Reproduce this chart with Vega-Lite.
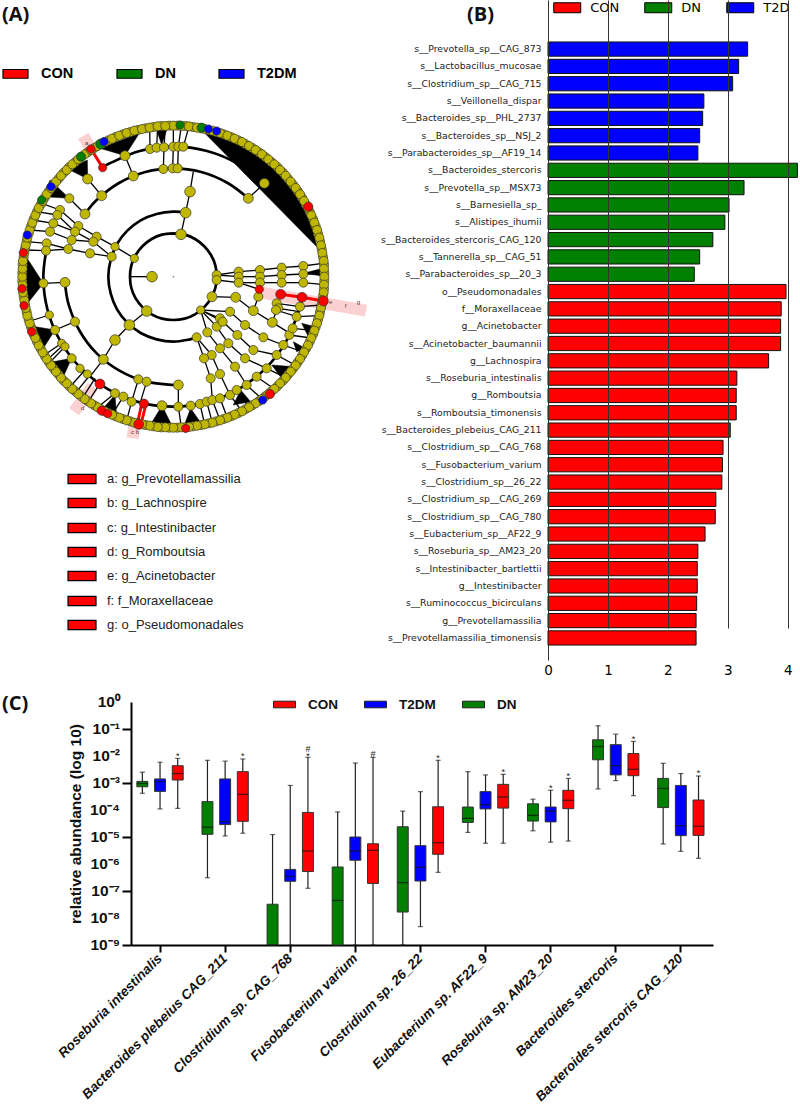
{"$schema":"https://vega.github.io/schema/vega-lite/v6.json","padding":0,"background":"white","config":{"view":{"stroke":null},"font":"Liberation Sans","axis":{"labelOverlap":false}},"columns":2,"bounds":"flush","align":"each","spacing":{"row":22,"column":0},"resolve":{"scale":{"color":"independent","size":"independent"},"legend":{"color":"independent"}},
"datasets":{
"rings":[
{"ring":1,"k":0,"x":0,"y":130},{"ring":1,"k":1,"x":34,"y":126},{"ring":1,"k":2,"x":65,"y":113},{"ring":1,"k":3,"x":92,"y":92},{"ring":1,"k":4,"x":113,"y":65},{"ring":1,"k":5,"x":126,"y":34},{"ring":1,"k":6,"x":130,"y":0},{"ring":1,"k":7,"x":126,"y":-34},{"ring":1,"k":8,"x":113,"y":-65},{"ring":1,"k":9,"x":92,"y":-92},{"ring":1,"k":10,"x":65,"y":-113},{"ring":1,"k":11,"x":34,"y":-126},{"ring":1,"k":12,"x":0,"y":-130},{"ring":1,"k":13,"x":-34,"y":-126},{"ring":1,"k":14,"x":-65,"y":-113},{"ring":1,"k":15,"x":-92,"y":-92},{"ring":1,"k":16,"x":-113,"y":-65},{"ring":1,"k":17,"x":-126,"y":-34},{"ring":1,"k":18,"x":-130,"y":0},{"ring":1,"k":19,"x":-126,"y":34},{"ring":1,"k":20,"x":-113,"y":65},{"ring":1,"k":21,"x":-92,"y":92},{"ring":1,"k":22,"x":-65,"y":113},{"ring":1,"k":23,"x":-34,"y":126},{"ring":1,"k":24,"x":0,"y":130},
{"ring":2,"k":0,"x":70,"y":-182},{"ring":2,"k":1,"x":50,"y":-188},{"ring":2,"k":2,"x":0,"y":-195},{"ring":2,"k":3,"x":-50,"y":-188},{"ring":2,"k":4,"x":-98,"y":-169},{"ring":2,"k":5,"x":-138,"y":-138},{"ring":2,"k":6,"x":-169,"y":-98},{"ring":2,"k":7,"x":-188,"y":-50},{"ring":2,"k":8,"x":-195,"y":0},{"ring":2,"k":9,"x":-188,"y":50},{"ring":2,"k":10,"x":-169,"y":98},{"ring":2,"k":11,"x":-138,"y":138},{"ring":2,"k":12,"x":-98,"y":169},{"ring":2,"k":13,"x":-50,"y":188},{"ring":2,"k":14,"x":0,"y":195},{"ring":2,"k":15,"x":37,"y":192},
{"ring":3,"k":0,"x":-266,"y":186},{"ring":3,"k":1,"x":-230,"y":230},{"ring":3,"k":2,"x":-163,"y":281},{"ring":3,"k":3,"x":-84,"y":314},{"ring":3,"k":4,"x":0,"y":325},{"ring":3,"k":5,"x":84,"y":314},{"ring":3,"k":6,"x":163,"y":281},{"ring":3,"k":7,"x":226,"y":234},
{"ring":4,"k":0,"x":17,"y":-325},{"ring":4,"k":1,"x":0,"y":-325},{"ring":4,"k":2,"x":-84,"y":-314},{"ring":4,"k":3,"x":-163,"y":-281},{"ring":4,"k":4,"x":-230,"y":-230},{"ring":4,"k":5,"x":-281,"y":-163},{"ring":4,"k":6,"x":-314,"y":-84},{"ring":4,"k":7,"x":-325,"y":-17},
{"ring":5,"k":0,"x":-212,"y":327},{"ring":5,"k":1,"x":-195,"y":338},{"ring":5,"k":2,"x":-101,"y":377},{"ring":5,"k":3,"x":0,"y":390},{"ring":5,"k":4,"x":101,"y":377},{"ring":5,"k":5,"x":195,"y":338},{"ring":5,"k":6,"x":271,"y":281},
{"ring":6,"k":0,"x":384,"y":-68},{"ring":6,"k":1,"x":377,"y":-101},{"ring":6,"k":2,"x":338,"y":-195},{"ring":6,"k":3,"x":276,"y":-276},{"ring":6,"k":4,"x":195,"y":-338},{"ring":6,"k":5,"x":101,"y":-377},{"ring":6,"k":6,"x":0,"y":-390},{"ring":6,"k":7,"x":-101,"y":-377},{"ring":6,"k":8,"x":-195,"y":-338},{"ring":6,"k":9,"x":-276,"y":-276},{"ring":6,"k":10,"x":-338,"y":-195},{"ring":6,"k":11,"x":-377,"y":-101},{"ring":6,"k":12,"x":-390,"y":0},{"ring":6,"k":13,"x":-377,"y":101}
],
"nodes":[
{"x":12,"y":453,"g":"ns","a":3},{"x":36,"y":452,"g":"ns","a":3},{"x":59,"y":449,"g":"ns","a":3},{"x":83,"y":445,"g":"ns","a":3},{"x":106,"y":440,"g":"ns","a":3},{"x":129,"y":434,"g":"ns","a":3},{"x":151,"y":427,"g":"ns","a":3},{"x":173,"y":419,"g":"ns","a":3},{"x":195,"y":409,"g":"ns","a":3},{"x":216,"y":398,"g":"ns","a":3},{"x":237,"y":386,"g":"ns","a":3},{"x":257,"y":373,"g":"ns","a":3},{"x":276,"y":359,"g":"ns","a":3},{"x":294,"y":344,"g":"ns","a":3},{"x":312,"y":329,"g":"ns","a":3},{"x":329,"y":312,"g":"ns","a":3},{"x":344,"y":294,"g":"ns","a":3},{"x":359,"y":276,"g":"ns","a":3},{"x":373,"y":257,"g":"ns","a":3},{"x":386,"y":237,"g":"ns","a":3},{"x":398,"y":216,"g":"ns","a":3},{"x":409,"y":195,"g":"ns","a":3},{"x":419,"y":173,"g":"ns","a":3},{"x":427,"y":151,"g":"ns","a":3},{"x":434,"y":129,"g":"ns","a":3},{"x":440,"y":106,"g":"ns","a":3},{"x":445,"y":83,"g":"ns","a":3},{"x":449,"y":59,"g":"ns","a":3},{"x":452,"y":36,"g":"ns","a":3},{"x":453,"y":12,"g":"ns","a":3},
{"x":12,"y":-453,"g":"ns","a":3},{"x":36,"y":-452,"g":"ns","a":3},{"x":59,"y":-449,"g":"ns","a":3},{"x":83,"y":-445,"g":"ns","a":3},{"x":106,"y":-440,"g":"ns","a":3},{"x":129,"y":-434,"g":"ns","a":3},{"x":151,"y":-427,"g":"ns","a":3},{"x":173,"y":-419,"g":"ns","a":3},{"x":195,"y":-409,"g":"ns","a":3},{"x":216,"y":-398,"g":"ns","a":3},{"x":237,"y":-386,"g":"ns","a":3},{"x":257,"y":-373,"g":"ns","a":3},{"x":276,"y":-359,"g":"ns","a":3},{"x":294,"y":-344,"g":"ns","a":3},{"x":312,"y":-329,"g":"ns","a":3},{"x":329,"y":-312,"g":"ns","a":3},{"x":344,"y":-294,"g":"ns","a":3},{"x":359,"y":-276,"g":"ns","a":3},{"x":373,"y":-257,"g":"ns","a":3},{"x":386,"y":-237,"g":"ns","a":3},{"x":398,"y":-216,"g":"ns","a":3},{"x":409,"y":-195,"g":"ns","a":3},{"x":419,"y":-173,"g":"ns","a":3},{"x":427,"y":-151,"g":"ns","a":3},{"x":434,"y":-129,"g":"ns","a":3},{"x":440,"y":-106,"g":"ns","a":3},{"x":445,"y":-83,"g":"ns","a":3},{"x":449,"y":-59,"g":"ns","a":3},{"x":452,"y":-36,"g":"ns","a":3},{"x":453,"y":-12,"g":"ns","a":3},
{"x":-12,"y":-453,"g":"ns","a":3},{"x":-36,"y":-452,"g":"ns","a":3},{"x":-59,"y":-449,"g":"ns","a":3},{"x":-83,"y":-445,"g":"ns","a":3},{"x":-106,"y":-440,"g":"ns","a":3},{"x":-129,"y":-434,"g":"ns","a":3},{"x":-151,"y":-427,"g":"ns","a":3},{"x":-173,"y":-419,"g":"ns","a":3},{"x":-195,"y":-409,"g":"ns","a":3},{"x":-216,"y":-398,"g":"ns","a":3},{"x":-237,"y":-386,"g":"ns","a":3},{"x":-257,"y":-373,"g":"ns","a":3},{"x":-276,"y":-359,"g":"ns","a":3},{"x":-294,"y":-344,"g":"ns","a":3},{"x":-312,"y":-329,"g":"ns","a":3},{"x":-329,"y":-312,"g":"ns","a":3},{"x":-344,"y":-294,"g":"ns","a":3},{"x":-359,"y":-276,"g":"ns","a":3},{"x":-373,"y":-257,"g":"ns","a":3},{"x":-386,"y":-237,"g":"ns","a":3},{"x":-398,"y":-216,"g":"ns","a":3},{"x":-409,"y":-195,"g":"ns","a":3},{"x":-419,"y":-173,"g":"ns","a":3},{"x":-427,"y":-151,"g":"ns","a":3},{"x":-434,"y":-129,"g":"ns","a":3},{"x":-440,"y":-106,"g":"ns","a":3},{"x":-445,"y":-83,"g":"ns","a":3},{"x":-449,"y":-59,"g":"ns","a":3},{"x":-452,"y":-36,"g":"ns","a":3},{"x":-453,"y":-12,"g":"ns","a":3},
{"x":-12,"y":453,"g":"ns","a":3},{"x":-36,"y":452,"g":"ns","a":3},{"x":-59,"y":449,"g":"ns","a":3},{"x":-83,"y":445,"g":"ns","a":3},{"x":-106,"y":440,"g":"ns","a":3},{"x":-129,"y":434,"g":"ns","a":3},{"x":-151,"y":427,"g":"ns","a":3},{"x":-173,"y":419,"g":"ns","a":3},{"x":-195,"y":409,"g":"ns","a":3},{"x":-216,"y":398,"g":"ns","a":3},{"x":-237,"y":386,"g":"ns","a":3},{"x":-257,"y":373,"g":"ns","a":3},{"x":-276,"y":359,"g":"ns","a":3},{"x":-294,"y":344,"g":"ns","a":3},{"x":-312,"y":329,"g":"ns","a":3},{"x":-329,"y":312,"g":"ns","a":3},{"x":-344,"y":294,"g":"ns","a":3},{"x":-359,"y":276,"g":"ns","a":3},{"x":-373,"y":257,"g":"ns","a":3},{"x":-386,"y":237,"g":"ns","a":3},{"x":-398,"y":216,"g":"ns","a":3},{"x":-409,"y":195,"g":"ns","a":3},{"x":-419,"y":173,"g":"ns","a":3},{"x":-427,"y":151,"g":"ns","a":3},{"x":-434,"y":129,"g":"ns","a":3},{"x":-440,"y":106,"g":"ns","a":3},{"x":-445,"y":83,"g":"ns","a":3},{"x":-449,"y":59,"g":"ns","a":3},{"x":-452,"y":36,"g":"ns","a":3},{"x":-453,"y":12,"g":"ns","a":3},
{"x":0,"y":453,"g":"ns","a":3},{"x":24,"y":452,"g":"ns","a":3},{"x":47,"y":451,"g":"ns","a":3},{"x":71,"y":447,"g":"ns","a":3},{"x":94,"y":443,"g":"ns","a":3},{"x":117,"y":438,"g":"ns","a":3},{"x":140,"y":431,"g":"ns","a":3},{"x":162,"y":423,"g":"ns","a":3},{"x":184,"y":414,"g":"ns","a":3},{"x":206,"y":404,"g":"ns","a":3},{"x":227,"y":392,"g":"ns","a":3},{"x":247,"y":380,"g":"ns","a":3},{"x":266,"y":367,"g":"ns","a":3},{"x":285,"y":352,"g":"ns","a":3},{"x":303,"y":337,"g":"ns","a":3},{"x":320,"y":320,"g":"ns","a":3},{"x":337,"y":303,"g":"ns","a":3},{"x":352,"y":285,"g":"ns","a":3},{"x":367,"y":266,"g":"ns","a":3},{"x":380,"y":247,"g":"ns","a":3},{"x":392,"y":227,"g":"ns","a":3},{"x":404,"y":206,"g":"ns","a":3},{"x":414,"y":184,"g":"ns","a":3},{"x":423,"y":162,"g":"ns","a":3},{"x":431,"y":140,"g":"ns","a":3},{"x":438,"y":117,"g":"ns","a":3},{"x":443,"y":94,"g":"ns","a":3},{"x":447,"y":71,"g":"ns","a":3},{"x":451,"y":47,"g":"ns","a":3},{"x":452,"y":24,"g":"ns","a":3},
{"x":453,"y":0,"g":"ns","a":3},{"x":452,"y":-24,"g":"ns","a":3},{"x":451,"y":-47,"g":"ns","a":3},{"x":447,"y":-71,"g":"ns","a":3},{"x":443,"y":-94,"g":"ns","a":3},{"x":438,"y":-117,"g":"ns","a":3},{"x":431,"y":-140,"g":"ns","a":3},{"x":423,"y":-162,"g":"ns","a":3},{"x":414,"y":-184,"g":"ns","a":3},{"x":404,"y":-206,"g":"ns","a":3},{"x":392,"y":-227,"g":"ns","a":3},{"x":380,"y":-247,"g":"ns","a":3},{"x":367,"y":-266,"g":"ns","a":3},{"x":352,"y":-285,"g":"ns","a":3},{"x":337,"y":-303,"g":"ns","a":3},{"x":320,"y":-320,"g":"ns","a":3},{"x":303,"y":-337,"g":"ns","a":3},{"x":285,"y":-352,"g":"ns","a":3},{"x":266,"y":-367,"g":"ns","a":3},{"x":247,"y":-380,"g":"ns","a":3},{"x":227,"y":-392,"g":"ns","a":3},{"x":206,"y":-404,"g":"ns","a":3},{"x":184,"y":-414,"g":"ns","a":3},{"x":162,"y":-423,"g":"ns","a":3},{"x":140,"y":-431,"g":"ns","a":3},{"x":117,"y":-438,"g":"ns","a":3},{"x":94,"y":-443,"g":"ns","a":3},{"x":71,"y":-447,"g":"ns","a":3},{"x":47,"y":-451,"g":"ns","a":3},{"x":24,"y":-452,"g":"ns","a":3},
{"x":0,"y":-453,"g":"ns","a":3},{"x":-24,"y":-452,"g":"ns","a":3},{"x":-47,"y":-451,"g":"ns","a":3},{"x":-71,"y":-447,"g":"ns","a":3},{"x":-94,"y":-443,"g":"ns","a":3},{"x":-117,"y":-438,"g":"ns","a":3},{"x":-140,"y":-431,"g":"ns","a":3},{"x":-162,"y":-423,"g":"ns","a":3},{"x":-184,"y":-414,"g":"ns","a":3},{"x":-206,"y":-404,"g":"ns","a":3},{"x":-227,"y":-392,"g":"ns","a":3},{"x":-247,"y":-380,"g":"ns","a":3},{"x":-266,"y":-367,"g":"ns","a":3},{"x":-285,"y":-352,"g":"ns","a":3},{"x":-303,"y":-337,"g":"ns","a":3},{"x":-320,"y":-320,"g":"ns","a":3},{"x":-337,"y":-303,"g":"ns","a":3},{"x":-352,"y":-285,"g":"ns","a":3},{"x":-367,"y":-266,"g":"ns","a":3},{"x":-380,"y":-247,"g":"ns","a":3},{"x":-392,"y":-227,"g":"ns","a":3},{"x":-404,"y":-206,"g":"ns","a":3},{"x":-414,"y":-184,"g":"ns","a":3},{"x":-423,"y":-162,"g":"ns","a":3},{"x":-431,"y":-140,"g":"ns","a":3},{"x":-438,"y":-117,"g":"ns","a":3},{"x":-443,"y":-94,"g":"ns","a":3},{"x":-447,"y":-71,"g":"ns","a":3},{"x":-451,"y":-47,"g":"ns","a":3},{"x":-452,"y":-24,"g":"ns","a":3},
{"x":-453,"y":0,"g":"ns","a":3},{"x":-452,"y":24,"g":"ns","a":3},{"x":-451,"y":47,"g":"ns","a":3},{"x":-447,"y":71,"g":"ns","a":3},{"x":-443,"y":94,"g":"ns","a":3},{"x":-438,"y":117,"g":"ns","a":3},{"x":-431,"y":140,"g":"ns","a":3},{"x":-423,"y":162,"g":"ns","a":3},{"x":-414,"y":184,"g":"ns","a":3},{"x":-404,"y":206,"g":"ns","a":3},{"x":-392,"y":227,"g":"ns","a":3},{"x":-380,"y":247,"g":"ns","a":3},{"x":-367,"y":266,"g":"ns","a":3},{"x":-352,"y":285,"g":"ns","a":3},{"x":-337,"y":303,"g":"ns","a":3},{"x":-320,"y":320,"g":"ns","a":3},{"x":-303,"y":337,"g":"ns","a":3},{"x":-285,"y":352,"g":"ns","a":3},{"x":-266,"y":367,"g":"ns","a":3},{"x":-247,"y":380,"g":"ns","a":3},{"x":-227,"y":392,"g":"ns","a":3},{"x":-206,"y":404,"g":"ns","a":3},{"x":-184,"y":414,"g":"ns","a":3},{"x":-162,"y":423,"g":"ns","a":3},{"x":-140,"y":431,"g":"ns","a":3},{"x":-117,"y":438,"g":"ns","a":3},{"x":-94,"y":443,"g":"ns","a":3},{"x":-71,"y":447,"g":"ns","a":3},{"x":-47,"y":451,"g":"ns","a":3},{"x":-24,"y":452,"g":"ns","a":3},
{"x":80,"y":-382,"g":"ns","a":3},{"x":100,"y":-375,"g":"ns","a":3},{"x":117,"y":-370,"g":"ns","a":3},{"x":140,"y":-365,"g":"ns","a":3},{"x":170,"y":-355,"g":"ns","a":3},{"x":190,"y":-340,"g":"ns","a":3},{"x":220,"y":-325,"g":"ns","a":3},{"x":250,"y":-300,"g":"ns","a":3},{"x":280,"y":-275,"g":"ns","a":3},{"x":310,"y":-235,"g":"ns","a":3},{"x":330,"y":-205,"g":"ns","a":3},{"x":348,"y":-175,"g":"ns","a":3},{"x":358,"y":-155,"g":"ns","a":3},{"x":370,"y":-120,"g":"ns","a":3},{"x":380,"y":-90,"g":"ns","a":3},
{"x":-70,"y":383,"g":"ns","a":3},{"x":-50,"y":387,"g":"ns","a":3},{"x":-28,"y":388,"g":"ns","a":3},{"x":0,"y":390,"g":"ns","a":3},{"x":15,"y":390,"g":"ns","a":3},{"x":30,"y":390,"g":"ns","a":3},{"x":-145,"y":363,"g":"ns","a":2},{"x":273,"y":280,"g":"ns","a":2},
{"x":-265,"y":188,"g":"ns","a":2},{"x":-215,"y":243,"g":"ns","a":2},{"x":-120,"y":302,"g":"ns","a":2},{"x":-30,"y":323,"g":"ns","a":3},{"x":-2,"y":325,"g":"ns","a":3},{"x":13,"y":325,"g":"ns","a":3},{"x":225,"y":235,"g":"ns","a":2},{"x":-325,"y":-17,"g":"ns","a":2},{"x":-295,"y":-135,"g":"ns","a":3},{"x":-210,"y":-248,"g":"ns","a":2},{"x":-105,"y":-308,"g":"ns","a":3},{"x":-80,"y":-315,"g":"ns","a":3},{"x":15,"y":-325,"g":"ns","a":2},
{"x":-257,"y":293,"g":"ns","a":2},{"x":-312,"y":235,"g":"ns","a":3},{"x":-175,"y":-350,"g":"ns","a":3},{"x":-150,"y":-360,"g":"ns","a":3},{"x":-125,"y":-375,"g":"ns","a":3},{"x":-34,"y":-387,"g":"ns","a":2},{"x":15,"y":-390,"g":"ns","a":3},{"x":52,"y":-387,"g":"ns","a":3},{"x":-390,"y":-20,"g":"ns","a":3},{"x":-372,"y":-115,"g":"ns","a":4},{"x":-355,"y":-160,"g":"ns","a":3},{"x":-305,"y":-245,"g":"ns","a":3},{"x":-280,"y":-275,"g":"ns","a":4},{"x":-258,"y":-292,"g":"ns","a":4},{"x":-335,"y":-200,"g":"ns","a":4},{"x":-325,"y":-210,"g":"ns","a":4},
{"x":23,"y":127,"g":"ns","a":1},{"x":37,"y":192,"g":"ns","a":1},{"x":50,"y":255,"g":"ns","a":1},{"x":130,"y":5,"g":"ns","a":3},{"x":130,"y":-10,"g":"ns","a":3},{"x":116,"y":-60,"g":"ns","a":2},{"x":82,"y":-100,"g":"ns","a":4},{"x":-80,"y":-103,"g":"ns","a":1},{"x":-117,"y":55,"g":"ns","a":4},{"x":-175,"y":90,"g":"ns","a":4},{"x":-185,"y":60,"g":"ns","a":3},{"x":-132,"y":-145,"g":"ns","a":1},{"x":70,"y":-182,"g":"ns","a":3},{"x":-175,"y":-190,"g":"ns","a":1},{"x":187,"y":-62,"g":"ns","a":2},{"x":240,"y":-102,"g":"ns","a":2},{"x":297,"y":-137,"g":"ns","a":2},{"x":-64,"y":0,"g":"ns","a":1},
{"x":-230,"y":120,"g":"ns","a":3},{"x":-240,"y":105,"g":"ns","a":3},{"x":-250,"y":70,"g":"ns","a":3},{"x":-285,"y":152,"g":"ns","a":3},{"x":-295,"y":135,"g":"ns","a":3},{"x":-305,"y":110,"g":"ns","a":3},{"x":-315,"y":83,"g":"ns","a":3},{"x":-340,"y":200,"g":"ns","a":3},{"x":-348,"y":185,"g":"ns","a":3},{"x":-360,"y":160,"g":"ns","a":3},{"x":-370,"y":135,"g":"ns","a":3},{"x":-380,"y":100,"g":"ns","a":3},{"x":-382,"y":78,"g":"ns","a":3},
{"x":196,"y":15,"g":"ns","a":3},{"x":196,"y":0,"g":"ns","a":3},{"x":196,"y":-18,"g":"ns","a":3},{"x":260,"y":20,"g":"ns","a":3},{"x":260,"y":0,"g":"ns","a":3},{"x":260,"y":-18,"g":"ns","a":3},{"x":325,"y":27,"g":"ns","a":3},{"x":325,"y":5,"g":"ns","a":3},{"x":325,"y":-18,"g":"ns","a":3},{"x":390,"y":32,"g":"ns","a":3},{"x":390,"y":8,"g":"ns","a":3},{"x":390,"y":-18,"g":"ns","a":3},{"x":255,"y":-60,"g":"ns","a":3},{"x":310,"y":-80,"g":"ns","a":3},{"x":315,"y":-95,"g":"ns","a":3},{"x":308,"y":-100,"g":"ns","a":3},
{"x":140,"y":-125,"g":"ns","a":3},{"x":170,"y":-105,"g":"ns","a":3},{"x":130,"y":-150,"g":"ns","a":3},{"x":148,"y":-135,"g":"ns","a":3},{"x":102,"y":-167,"g":"ns","a":3},{"x":192,"y":-175,"g":"ns","a":3},{"x":215,"y":-145,"g":"ns","a":3},{"x":165,"y":-200,"g":"ns","a":3},{"x":140,"y":-215,"g":"ns","a":3},{"x":115,"y":-235,"g":"ns","a":3},{"x":92,"y":-245,"g":"ns","a":3},{"x":270,"y":-182,"g":"ns","a":3},{"x":240,"y":-220,"g":"ns","a":3},{"x":215,"y":-245,"g":"ns","a":3},{"x":185,"y":-270,"g":"ns","a":3},{"x":140,"y":-292,"g":"ns","a":3},{"x":112,"y":-305,"g":"ns","a":3},
{"x":-247,"y":383,"g":"CON","a":4},{"x":-212,"y":327,"g":"CON","a":4},{"x":405,"y":210,"g":"CON","a":3},{"x":-450,"y":72,"g":"CON","a":4},{"x":-454,"y":-36,"g":"CON","a":4},{"x":-448,"y":-87,"g":"CON","a":4},{"x":-425,"y":-165,"g":"CON","a":4},{"x":-220,"y":-322,"g":"CON","a":2},{"x":-215,"y":-402,"g":"CON","a":3},{"x":-197,"y":-411,"g":"CON","a":4},{"x":-88,"y":-381,"g":"CON","a":3},{"x":-104,"y":-443,"g":"CON","a":2},{"x":37,"y":-455,"g":"CON","a":4},{"x":290,"y":-352,"g":"CON","a":3},{"x":258,"y":-38,"g":"CON","a":4},{"x":322,"y":-53,"g":"CON","a":2},{"x":386,"y":-62,"g":"CON","a":2},{"x":450,"y":-73,"g":"CON","a":2},
{"x":-395,"y":230,"g":"DN","a":4},{"x":-277,"y":360,"g":"DN","a":3},{"x":-218,"y":398,"g":"DN","a":2},{"x":20,"y":455,"g":"DN","a":4},{"x":85,"y":447,"g":"DN","a":3},
{"x":-438,"y":125,"g":"T2DM","a":4},{"x":-367,"y":270,"g":"T2DM","a":4},{"x":-208,"y":405,"g":"T2DM","a":4},{"x":130,"y":437,"g":"T2DM","a":4},{"x":268,"y":-370,"g":"T2DM","a":4},{"x":105,"y":443,"g":"T2DM","a":4}
],
"edges":[
{"x":-117,"y":55,"x2":-175,"y2":90},{"x":-175,"y":90,"x2":-230,"y2":120},{"x":-185,"y":60,"x2":-240,"y2":105},{"x":-185,"y":60,"x2":-250,"y2":70},{"x":-230,"y":120,"x2":-285,"y2":152},{"x":-240,"y":105,"x2":-295,"y2":135},{"x":-240,"y":105,"x2":-305,"y2":110},{"x":-250,"y":70,"x2":-315,"y2":83},{"x":-285,"y":152,"x2":-340,"y2":200},{"x":-295,"y":135,"x2":-348,"y2":185},{"x":-295,"y":135,"x2":-360,"y2":160},{"x":-305,"y":110,"x2":-370,"y2":135},{"x":-315,"y":83,"x2":-380,"y2":100},{"x":-315,"y":83,"x2":-382,"y2":78},{"x":-340,"y":200,"x2":-395,"y2":220},{"x":-348,"y":185,"x2":-410,"y2":195},{"x":-360,"y":160,"x2":-420,"y2":170},{"x":-370,"y":135,"x2":-430,"y2":140},{"x":-380,"y":100,"x2":-440,"y2":105},{"x":-382,"y":78,"x2":-445,"y2":80},
{"x":130,"y":5,"x2":196,"y2":15},{"x":130,"y":5,"x2":196,"y2":0},{"x":130,"y":-10,"x2":196,"y2":-18},{"x":196,"y":15,"x2":260,"y2":20},{"x":196,"y":0,"x2":260,"y2":0},{"x":196,"y":-18,"x2":260,"y2":-18},{"x":196,"y":-18,"x2":258,"y2":-38},{"x":260,"y":20,"x2":325,"y2":27},{"x":260,"y":0,"x2":325,"y2":5},{"x":260,"y":-18,"x2":325,"y2":-18},{"x":325,"y":27,"x2":390,"y2":32},{"x":325,"y":5,"x2":390,"y2":8},{"x":325,"y":-18,"x2":390,"y2":-18},{"x":390,"y":32,"x2":448,"y2":40},{"x":390,"y":8,"x2":450,"y2":10},{"x":390,"y":-18,"x2":452,"y2":-24},
{"x":240,"y":-102,"x2":255,"y2":-60},{"x":297,"y":-137,"x2":310,"y2":-100},{"x":310,"y":-80,"x2":380,"y2":-90},{"x":315,"y":-95,"x2":378,"y2":-105},{"x":308,"y":-100,"x2":370,"y2":-120},
{"x":380,"y":-90,"x2":445,"y2":-85},{"x":370,"y":-120,"x2":438,"y2":-117},{"x":358,"y":-155,"x2":423,"y2":-162},{"x":348,"y":-175,"x2":414,"y2":-184},{"x":330,"y":-205,"x2":392,"y2":-227},{"x":310,"y":-235,"x2":367,"y2":-266},{"x":280,"y":-275,"x2":337,"y2":-303},{"x":250,"y":-300,"x2":303,"y2":-337},{"x":220,"y":-325,"x2":266,"y2":-367},{"x":190,"y":-340,"x2":227,"y2":-392},{"x":170,"y":-355,"x2":206,"y2":-404},{"x":140,"y":-365,"x2":162,"y2":-423},{"x":117,"y":-370,"x2":140,"y2":-431},{"x":100,"y":-375,"x2":117,"y2":-438},{"x":80,"y":-382,"x2":94,"y2":-443},
{"x":82,"y":-100,"x2":170,"y2":-105},{"x":82,"y":-100,"x2":140,"y2":-125},{"x":82,"y":-100,"x2":148,"y2":-135},{"x":82,"y":-100,"x2":130,"y2":-150},{"x":82,"y":-100,"x2":102,"y2":-167},{"x":170,"y":-105,"x2":215,"y2":-145},{"x":148,"y":-135,"x2":192,"y2":-175},{"x":130,"y":-150,"x2":165,"y2":-200},{"x":102,"y":-167,"x2":140,"y2":-215},{"x":70,"y":-182,"x2":115,"y2":-235},{"x":70,"y":-182,"x2":92,"y2":-245},{"x":215,"y":-145,"x2":270,"y2":-182},{"x":192,"y":-175,"x2":240,"y2":-220},{"x":165,"y":-200,"x2":215,"y2":-245},{"x":140,"y":-215,"x2":185,"y2":-270},{"x":115,"y":-235,"x2":140,"y2":-292},{"x":92,"y":-245,"x2":112,"y2":-305},{"x":270,"y":-182,"x2":330,"y2":-205},{"x":240,"y":-220,"x2":310,"y2":-235},{"x":215,"y":-245,"x2":280,"y2":-275},{"x":185,"y":-270,"x2":220,"y2":-325},{"x":140,"y":-292,"x2":170,"y2":-355},{"x":112,"y":-305,"x2":117,"y2":-370},
{"x":-64,"y":0,"x2":-130,"y2":0},{"x":23,"y":127,"x2":37,"y2":192},{"x":37,"y":192,"x2":50,"y2":255},{"x":50,"y":255,"x2":60,"y2":315},{"x":-80,"y":-103,"x2":-132,"y2":-145},{"x":-132,"y":-145,"x2":-175,"y2":-190},{"x":-175,"y":-190,"x2":-210,"y2":-248},{"x":-210,"y":-248,"x2":-250,"y2":-300},{"x":116,"y":-60,"x2":187,"y2":-62},{"x":187,"y":-62,"x2":240,"y2":-102},{"x":240,"y":-102,"x2":297,"y2":-137},{"x":297,"y":-137,"x2":350,"y2":-170},
{"x":-30,"y":323,"x2":-28,"y2":388},{"x":-2,"y":325,"x2":0,"y2":390},{"x":13,"y":325,"x2":15,"y2":390},{"x":-70,"y":383,"x2":-71,"y2":447},{"x":-50,"y":387,"x2":-47,"y2":451},{"x":-28,"y":388,"x2":-24,"y2":452},{"x":0,"y":390,"x2":0,"y2":453},{"x":15,"y":390,"x2":24,"y2":452},{"x":30,"y":390,"x2":47,"y2":451},
{"x":-265,"y":188,"x2":-312,"y2":235},{"x":-215,"y":243,"x2":-257,"y2":293},{"x":-120,"y":302,"x2":-145,"y2":363},{"x":225,"y":235,"x2":273,"y2":280},{"x":-325,"y":-17,"x2":-390,"y2":-20},{"x":-295,"y":-135,"x2":-355,"y2":-160},{"x":-372,"y":-115,"x2":-420,"y2":-130},
{"x":-265,"y":-280,"x2":-305,"y2":-325},{"x":-250,"y":-295,"x2":-290,"y2":-345},{"x":-235,"y":-305,"x2":-270,"y2":-360},{"x":-220,"y":-320,"x2":-255,"y2":-375},{"x":-335,"y":-200,"x2":-395,"y2":-240},{"x":-330,"y":-205,"x2":-385,"y2":-255},{"x":-325,"y":-210,"x2":-378,"y2":-265},
{"x":-105,"y":-308,"x2":-125,"y2":-375},{"x":-80,"y":-315,"x2":-100,"y2":-380},{"x":-125,"y":-375,"x2":-140,"y2":-431},{"x":-150,"y":-360,"x2":-184,"y2":-414},{"x":-175,"y":-350,"x2":-227,"y2":-392},{"x":15,"y":-325,"x2":15,"y2":-390},{"x":15,"y":-390,"x2":24,"y2":-452},{"x":52,"y":-387,"x2":47,"y2":-451}
],
"redEdges":[{"x":-247,"y":383,"x2":-212,"y2":327},{"x":322,"y":-53,"x2":386,"y2":-62},{"x":386,"y":-62,"x2":450,"y2":-73},{"x":-95,"y":-382,"x2":-108,"y2":-442},{"x":-82,"y":-382,"x2":-97,"y2":-442}],
"wedges":[
{"w":1,"x":80,"y":443,"y2":445},{"w":1,"x":150,"y":424,"y2":374},{"w":1,"x":220,"y":392,"y2":303},{"w":1,"x":290,"y":344,"y2":232},{"w":1,"x":360,"y":270,"y2":161},{"w":1,"x":420,"y":161,"y2":100},{"w":1,"x":450,"y":70,"y2":70},
{"w":2,"x":-220,"y":385,"y2":385},{"w":2,"x":-145,"y":363,"y2":414},{"w":2,"x":-102,"y":430,"y2":430},
{"w":3,"x":-315,"y":322,"y2":322},{"w":3,"x":-258,"y":350,"y2":293.5},{"w":3,"x":-257,"y":293,"y2":293},
{"w":4,"x":-390,"y":240,"y2":240},{"w":4,"x":-370,"y":290,"y2":238.7},{"w":4,"x":-312,"y":235,"y2":235},
{"w":5,"x":-453,"y":30,"y2":-30},{"w":5,"x":-445,"y":65,"y2":-90},{"w":5,"x":-390,"y":-20,"y2":-20},
{"w":6,"x":-415,"y":-150,"y2":-150},{"w":6,"x":-390,"y":-215,"y2":-154},{"w":6,"x":-355,"y":-160,"y2":-160},
{"w":7,"x":-360,"y":-255,"y2":-255},{"w":7,"x":-330,"y":-300,"y2":-249.5},{"w":7,"x":-305,"y":-245,"y2":-245},
{"w":8,"x":-215,"y":-400,"y2":-400},{"w":8,"x":-175,"y":-355,"y2":-418},{"w":8,"x":-170,"y":-420,"y2":-420},
{"w":9,"x":-65,"y":-438,"y2":-438},{"w":9,"x":-34,"y":-387,"y2":-441.6},{"w":9,"x":-5,"y":-445,"y2":-445},
{"w":10,"x":35,"y":-440,"y2":-440},{"w":10,"x":52,"y":-395,"y2":-438},{"w":10,"x":80,"y":-435,"y2":-435},
{"w":11,"x":180,"y":-385,"y2":-385},{"w":11,"x":202,"y":-340,"y2":-380.8},{"w":11,"x":232,"y":-375,"y2":-375},
{"w":12,"x":295,"y":-265,"y2":-265},{"w":12,"x":325,"y":-305,"y2":-267.3},{"w":12,"x":360,"y":-270,"y2":-270},
{"w":13,"x":385,"y":-140,"y2":-140},{"w":13,"x":405,"y":-180,"y2":-145},{"w":13,"x":425,"y":-150,"y2":-150},
{"w":14,"x":360,"y":-195,"y2":-195},{"w":14,"x":370,"y":-225,"y2":-200.7},{"w":14,"x":395,"y":-215,"y2":-215},
{"w":15,"x":-50,"y":440,"y2":440},{"w":15,"x":-35,"y":395,"y2":442.3},{"w":15,"x":-18,"y":445,"y2":445},
{"w":16,"x":390,"y":10,"y2":10},{"w":16,"x":448,"y":25,"y2":2}
],
"boxes":[
{"g":"Roseburia intestinalis","s":"DN","hi":-2.60,"q3":-2.94,"med":-3.02,"q1":-3.14,"lo":-3.38},
{"g":"Roseburia intestinalis","s":"T2DM","hi":-2.23,"q3":-2.85,"med":-2.95,"q1":-3.31,"lo":-3.96},
{"g":"Roseburia intestinalis","s":"CON","hi":-2.09,"q3":-2.36,"med":-2.65,"q1":-2.89,"lo":-3.94},
{"g":"Bacteroides plebeius CAG_211","s":"DN","hi":-2.16,"q3":-3.69,"med":-4.64,"q1":-4.90,"lo":-6.51},
{"g":"Bacteroides plebeius CAG_211","s":"T2DM","hi":-2.19,"q3":-2.85,"med":-4.43,"q1":-4.54,"lo":-4.96},
{"g":"Bacteroides plebeius CAG_211","s":"CON","hi":-2.11,"q3":-2.58,"med":-3.42,"q1":-4.42,"lo":-4.86},
{"g":"Clostridium sp. CAG_768","s":"DN","hi":-4.91,"q3":-7.49,"med":-9,"q1":-9,"lo":-9},
{"g":"Clostridium sp. CAG_768","s":"T2DM","hi":-3.09,"q3":-6.20,"med":-6.46,"q1":-6.64,"lo":-9},
{"g":"Clostridium sp. CAG_768","s":"CON","hi":-2.05,"q3":-4.09,"med":-5.52,"q1":-6.28,"lo":-6.90},
{"g":"Fusobacterium varium","s":"DN","hi":-4.07,"q3":-6.11,"med":-7.35,"q1":-9,"lo":-9},
{"g":"Fusobacterium varium","s":"T2DM","hi":-2.26,"q3":-5.0,"med":-5.52,"q1":-5.86,"lo":-9},
{"g":"Fusobacterium varium","s":"CON","hi":-2.05,"q3":-5.25,"med":-5.49,"q1":-6.72,"lo":-9},
{"g":"Clostridium sp. 26_22","s":"DN","hi":-4.04,"q3":-4.62,"med":-6.69,"q1":-7.78,"lo":-9},
{"g":"Clostridium sp. 26_22","s":"T2DM","hi":-3.32,"q3":-5.32,"med":-6.12,"q1":-6.63,"lo":-8.32},
{"g":"Clostridium sp. 26_22","s":"CON","hi":-2.16,"q3":-3.88,"med":-5.21,"q1":-5.64,"lo":-6.31},
{"g":"Eubacterium sp. AF22_9","s":"DN","hi":-2.58,"q3":-3.89,"med":-4.31,"q1":-4.46,"lo":-4.83},
{"g":"Eubacterium sp. AF22_9","s":"T2DM","hi":-2.70,"q3":-3.32,"med":-3.80,"q1":-3.96,"lo":-5.23},
{"g":"Eubacterium sp. AF22_9","s":"CON","hi":-2.68,"q3":-3.05,"med":-3.52,"q1":-3.93,"lo":-5.23},
{"g":"Roseburia sp. AM23_20","s":"DN","hi":-3.60,"q3":-3.77,"med":-4.20,"q1":-4.41,"lo":-4.77},
{"g":"Roseburia sp. AM23_20","s":"T2DM","hi":-3.27,"q3":-3.89,"med":-4.04,"q1":-4.44,"lo":-5.19},
{"g":"Roseburia sp. AM23_20","s":"CON","hi":-2.83,"q3":-3.27,"med":-3.64,"q1":-3.95,"lo":-5.15},
{"g":"Bacteroides stercoris","s":"DN","hi":-0.88,"q3":-1.40,"med":-1.65,"q1":-2.14,"lo":-3.22},
{"g":"Bacteroides stercoris","s":"T2DM","hi":-1.19,"q3":-1.58,"med":-2.36,"q1":-2.70,"lo":-2.91},
{"g":"Bacteroides stercoris","s":"CON","hi":-1.46,"q3":-1.91,"med":-2.49,"q1":-2.73,"lo":-3.47},
{"g":"Bacteroides stercoris CAG_120","s":"DN","hi":-2.27,"q3":-2.83,"med":-3.20,"q1":-3.91,"lo":-5.26},
{"g":"Bacteroides stercoris CAG_120","s":"T2DM","hi":-2.65,"q3":-3.09,"med":-4.58,"q1":-4.95,"lo":-5.53},
{"g":"Bacteroides stercoris CAG_120","s":"CON","hi":-2.74,"q3":-3.63,"med":-4.60,"q1":-4.94,"lo":-5.79}
]},
"concat":[
{"width":131,"height":680,
"encoding":{"x":{"field":"x","type":"quantitative","axis":null,"scale":{"domain":[-520,-127],"nice":false,"zero":false}},"y":{"field":"y","type":"quantitative","axis":null,"scale":{"domain":[-1210,830],"nice":false,"zero":false}}},
"layer":[
{"data":{"values":[{"x":265,"y":-48,"x2":578,"y2":-102},{"x":-270,"y":422,"x2":-248,"y2":385},{"x":-242,"y":-330,"x2":-298,"y2":-405},{"x":-115,"y":-430,"x2":-122,"y2":-485}]},"mark":{"type":"rule","color":"#f28a8a","opacity":0.4,"strokeWidth":12},"encoding":{"x2":{"field":"x2"},"y2":{"field":"y2"}}},
{"data":{"name":"rings"},"mark":{"type":"line","color":"black","strokeWidth":2.7,"interpolate":"cardinal"},"encoding":{"detail":{"field":"ring","type":"nominal"},"order":{"field":"k","type":"quantitative"}}},
{"data":{"name":"wedges"},"mark":{"type":"area","fill":"black","opacity":1,"stroke":"black","strokeWidth":0.5},"encoding":{"y2":{"field":"y2"},"detail":{"field":"w","type":"nominal"}}},
{"data":{"name":"edges"},"mark":{"type":"rule","color":"black","strokeWidth":1.3},"encoding":{"x2":{"field":"x2"},"y2":{"field":"y2"}}},
{"data":{"name":"redEdges"},"mark":{"type":"rule","color":"#ff0000","strokeWidth":3},"encoding":{"x2":{"field":"x2"},"y2":{"field":"y2"}}},
{"data":{"name":"nodes"},"mark":{"type":"point","filled":true,"opacity":1,"stroke":"#333333","strokeWidth":0.7},"encoding":{"color":{"field":"g","type":"nominal","scale":{"domain":["CON","DN","T2DM","ns"],"range":["#ff0000","#007f00","#0000ff","#bfb600"]},"legend":{"values":["CON","DN","T2DM"],"orient":"none","legendX":2,"legendY":60,"direction":"horizontal","columns":3,"title":null,"symbolType":"M-1,-0.35H1V0.35H-1Z","symbolSize":625,"symbolStrokeColor":"black","symbolStrokeWidth":1.2,"symbolOpacity":1,"labelFont":"Liberation Sans","labelFontWeight":"bold","labelFontSize":14.5,"labelColor":"black","labelOffset":12,"columnPadding":40}},"size":{"field":"a","type":"nominal","legend":null,"scale":{"domain":[1,2,3,4],"range":[113,68,46,30]}}}},
{"data":{"values":[{"x":0,"y":0}]},"mark":{"type":"point","filled":true,"opacity":1,"color":"#a0a080","size":4}},
{"data":{"values":[{"t":"a: g_Prevotellamassilia","x":-274,"y":-607},{"t":"b: g_Lachnospire","x":-274,"y":-679},{"t":"c: g_Intestinibacter","x":-274,"y":-754},{"t":"d: g_Romboutsia","x":-274,"y":-826},{"t":"e: g_Acinetobacter","x":-274,"y":-898},{"t":"f: f_Moraxellaceae","x":-274,"y":-973},{"t":"g: o_Pseudomonadales","x":-274,"y":-1045}]},"layer":[{"mark":{"type":"point","shape":"M-1,-0.33H1V0.33H-1Z","filled":true,"opacity":1,"fill":"#ff0000","stroke":"black","strokeWidth":1.2,"size":784}},{"mark":{"type":"text","align":"left","baseline":"middle","dx":25,"fontSize":13,"font":"Liberation Sans","color":"#222222"},"encoding":{"text":{"field":"t"}}}]},
{"data":{"values":[{"t":"(A)","x":-514,"y":785},{"t":"(B)","x":881,"y":785}]},"mark":{"type":"text","align":"left","baseline":"middle","fontSize":20,"font":"Open Sans","fontWeight":"bold","color":"#111111"},"encoding":{"text":{"field":"t"}}},
{"data":{"values":[{"t":"a","x":-260,"y":400},{"t":"d","x":-272,"y":-395},{"t":"c b","x":-115,"y":-465},{"t":"e","x":472,"y":-75},{"t":"f","x":517,"y":-87},{"t":"g","x":555,"y":-77}]},"mark":{"type":"text","fontSize":6,"color":"#663333","baseline":"middle"},"encoding":{"text":{"field":"t"}}}
]},
{"width":667,"height":660,
"data":{"values":[
{"n":"s__Prevotella_sp__CAG_873","g":"T2D","v":3.33},{"n":"s__Lactobacillus_mucosae","g":"T2D","v":3.18},{"n":"s__Clostridium_sp__CAG_715","g":"T2D","v":3.08},{"n":"s__Veillonella_dispar","g":"T2D","v":2.60},{"n":"s__Bacteroides_sp__PHL_2737","g":"T2D","v":2.58},{"n":"s__Bacteroides_sp__NSJ_2","g":"T2D","v":2.53},{"n":"s__Parabacteroides_sp__AF19_14","g":"T2D","v":2.50},
{"n":"s__Bacteroides_stercoris","g":"DN","v":4.16},{"n":"s__Prevotella_sp__MSX73","g":"DN","v":3.27},{"n":"s__Barnesiella_sp_","g":"DN","v":3.02},{"n":"s__Alistipes_ihumii","g":"DN","v":2.95},{"n":"s__Bacteroides_stercoris_CAG_120","g":"DN","v":2.75},{"n":"s__Tannerella_sp__CAG_51","g":"DN","v":2.53},{"n":"s__Parabacteroides_sp__20_3","g":"DN","v":2.44},
{"n":"o__Pseudomonadales","g":"CON","v":3.97},{"n":"f__Moraxellaceae","g":"CON","v":3.89},{"n":"g__Acinetobacter","g":"CON","v":3.88},{"n":"s__Acinetobacter_baumannii","g":"CON","v":3.88},{"n":"g__Lachnospira","g":"CON","v":3.68},{"n":"s__Roseburia_intestinalis","g":"CON","v":3.15},{"n":"g__Romboutsia","g":"CON","v":3.14},{"n":"s__Romboutsia_timonensis","g":"CON","v":3.14},{"n":"s__Bacteroides_plebeius_CAG_211","g":"CON","v":3.04},{"n":"s__Clostridium_sp__CAG_768","g":"CON","v":2.92},{"n":"s__Fusobacterium_varium","g":"CON","v":2.91},{"n":"s__Clostridium_sp__26_22","g":"CON","v":2.90},{"n":"s__Clostridium_sp__CAG_269","g":"CON","v":2.80},{"n":"s__Clostridium_sp__CAG_780","g":"CON","v":2.79},{"n":"s__Eubacterium_sp__AF22_9","g":"CON","v":2.62},{"n":"s__Roseburia_sp__AM23_20","g":"CON","v":2.50},{"n":"s__Intestinibacter_bartlettii","g":"CON","v":2.49},{"n":"g__Intestinibacter","g":"CON","v":2.49},{"n":"s__Ruminococcus_bicirculans","g":"CON","v":2.48},{"n":"g__Prevotellamassilia","g":"CON","v":2.47},{"n":"s__Prevotellamassilia_timonensis","g":"CON","v":2.47}
]},
"mark":{"type":"bar","stroke":"#111111","strokeWidth":1},
"encoding":{
"x":{"field":"v","type":"quantitative","scale":{"domain":[0,4.17],"nice":false,"range":[417,667]},"axis":{"values":[0,1,2,3,4],"title":null,"grid":true,"gridColor":"#333333","gridWidth":1,"gridOpacity":1,"zindex":1,"domain":false,"ticks":false,"labelFont":"DejaVu Sans","labelFontSize":13.5,"labelColor":"black","labelPadding":3,"labelFlush":false}},
"y":{"field":"n","type":"nominal","sort":null,"scale":{"type":"band","range":[32,660],"paddingInner":0.18,"paddingOuter":0.72,"align":0.4},"axis":{"title":null,"ticks":false,"domain":true,"domainColor":"#333333","offset":-417,"labelFont":"DejaVu Sans","labelFontSize":9.3,"labelColor":"#222222","labelPadding":7,"labelLimit":0}},
"color":{"field":"g","type":"nominal","scale":{"domain":["CON","DN","T2D"],"range":["#ff0000","#007f00","#0000ff"]},"legend":{"orient":"none","legendX":428.75,"legendY":0,"direction":"horizontal","columns":3,"title":null,"symbolType":"M-2,-0.74H2V0.74H-2Z","symbolSize":182,"symbolStrokeColor":"black","symbolStrokeWidth":1,"labelFont":"DejaVu Sans","labelFontSize":13,"labelColor":"black","labelOffset":15.5,"columnPadding":23}}
}},
{"width":131,"height":243,
"encoding":{"x":{"field":"x","type":"quantitative","axis":null,"scale":{"domain":[0,131],"nice":false}},"y":{"field":"v","type":"quantitative","axis":null,"scale":{"domain":[-9,0],"nice":false,"zero":false}},"text":{"field":"t"}},
"layer":[
{"data":{"values":[{"t":"(C)","x":2,"v":-0.07}]},"mark":{"type":"text","align":"left","baseline":"middle","fontSize":20,"font":"Open Sans","fontWeight":"bold","color":"#111111"}},
{"data":{"values":[{"t":"10⁰","x":120,"v":0},{"t":"10⁻¹","x":120,"v":-1},{"t":"10⁻²","x":120,"v":-2},{"t":"10⁻³","x":120,"v":-3},{"t":"10⁻⁴","x":120,"v":-4},{"t":"10⁻⁵","x":120,"v":-5},{"t":"10⁻⁶","x":120,"v":-6},{"t":"10⁻⁷","x":120,"v":-7},{"t":"10⁻⁸","x":120,"v":-8},{"t":"10⁻⁹","x":120,"v":-9}]},"mark":{"type":"text","align":"right","baseline":"middle","fontSize":15.5,"font":"Liberation Sans","fontWeight":"bold","color":"#111111"}}
]},
{"width":582,"height":243,
"encoding":{
"x":{"field":"g","type":"nominal","sort":["Roseburia intestinalis","Bacteroides plebeius CAG_211","Clostridium sp. CAG_768","Fusobacterium varium","Clostridium sp. 26_22","Eubacterium sp. AF22_9","Roseburia sp. AM23_20","Bacteroides stercoris","Bacteroides stercoris CAG_120"],"scale":{"type":"band","paddingInner":0.12,"paddingOuter":0.03,"align":0.1},"axis":{"title":null,"labelAngle":-45,"labelAlign":"right","labelBaseline":"middle","labelFont":"Liberation Sans","labelFontWeight":"bold","labelFontStyle":"italic","labelFontSize":13.5,"labelColor":"#111111","labelLimit":0,"labelPadding":4,"domainColor":"black","domainWidth":2,"tickColor":"black","tickWidth":2,"tickSize":7}},
"xOffset":{"field":"s","type":"nominal","sort":["DN","T2DM","CON"],"scale":{"type":"band","paddingInner":0.38,"paddingOuter":0.31}}},
"layer":[
{"data":{"name":"boxes"},"mark":{"type":"rule","color":"#222222","strokeWidth":1.2},"encoding":{"y":{"field":"lo","type":"quantitative","scale":{"domain":[-9,0],"nice":false,"zero":false},"axis":{"values":[0,-1,-2,-3,-4,-5,-6,-7,-8,-9],"labels":false,"title":"relative abundance (log 10)","titleFont":"Liberation Sans","titleFontWeight":"bold","titleFontSize":15.5,"titleColor":"#111111","titlePadding":38,"grid":false,"domainColor":"black","domainWidth":2,"tickColor":"black","tickWidth":2,"tickSize":9}},"y2":{"field":"hi"}}},
{"data":{"name":"boxes"},"mark":{"type":"tick","color":"#222222","size":5,"thickness":1.2},"encoding":{"y":{"field":"hi","type":"quantitative","title":"relative abundance (log 10)"}}},
{"data":{"name":"boxes"},"mark":{"type":"tick","color":"#222222","size":5,"thickness":1.2},"encoding":{"y":{"field":"lo","type":"quantitative","title":"relative abundance (log 10)"}}},
{"data":{"name":"boxes"},"mark":{"type":"bar","stroke":"#333333","strokeWidth":1},"encoding":{"y":{"field":"q3","type":"quantitative","title":"relative abundance (log 10)"},"y2":{"field":"q1"},"color":{"field":"s","type":"nominal","scale":{"domain":["CON","T2DM","DN"],"range":["#ff0000","#0000ff","#007f00"]},"legend":{"orient":"none","legendX":142,"legendY":-9,"direction":"horizontal","columns":3,"title":null,"symbolType":"M-1,-0.3H1V0.3H-1Z","symbolSize":484,"symbolStrokeColor":"#222222","symbolStrokeWidth":1,"labelFont":"Liberation Sans","labelFontWeight":"bold","labelFontSize":13.5,"labelColor":"#111111","labelOffset":12,"columnPadding":24}}}},
{"data":{"name":"boxes"},"mark":{"type":"tick","color":"#111111","size":11,"thickness":1.3},"encoding":{"y":{"field":"med","type":"quantitative","title":"relative abundance (log 10)"}}},
{"data":{"values":[{"g":"Roseburia intestinalis","s":"CON","v":-1.96,"t":"*"},{"g":"Bacteroides plebeius CAG_211","s":"CON","v":-1.98,"t":"*"},{"g":"Clostridium sp. CAG_768","s":"CON","v":-1.95,"t":"*"},{"g":"Clostridium sp. CAG_768","s":"CON","v":-1.70,"t":"#"},{"g":"Fusobacterium varium","s":"CON","v":-1.89,"t":"#"},{"g":"Clostridium sp. 26_22","s":"CON","v":-2.04,"t":"*"},{"g":"Eubacterium sp. AF22_9","s":"CON","v":-2.54,"t":"*"},{"g":"Roseburia sp. AM23_20","s":"T2DM","v":-3.16,"t":"*"},{"g":"Roseburia sp. AM23_20","s":"CON","v":-2.70,"t":"*"},{"g":"Bacteroides stercoris","s":"CON","v":-1.32,"t":"*"},{"g":"Bacteroides stercoris CAG_120","s":"CON","v":-2.59,"t":"*"}]},"mark":{"type":"text","fontSize":9,"color":"#222222","baseline":"middle","dy":1},"encoding":{"y":{"field":"v","type":"quantitative","title":"relative abundance (log 10)"},"text":{"field":"t"}}}
]}
]}
